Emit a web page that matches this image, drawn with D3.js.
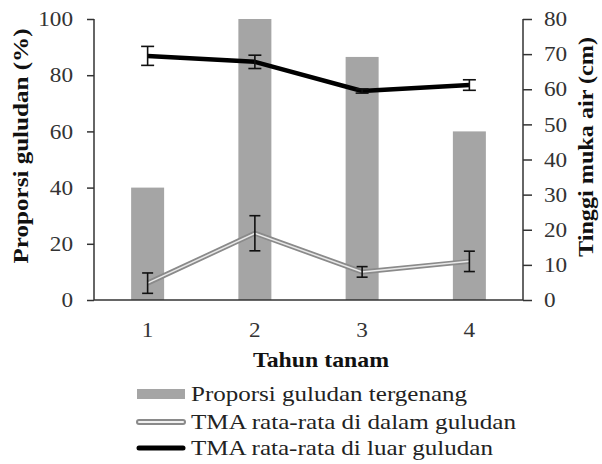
<!DOCTYPE html>
<html><head><meta charset="utf-8">
<script src="https://cdn.jsdelivr.net/npm/d3@7"></script>
</head><body style="margin:0;background:#fff"><div id="chart"></div>
<script>
const categories = ["1","2","3","4"];
const proporsi = [40, 100, 86.5, 60];
const tmaDalam = [4.8, 19, 8, 11];
const tmaDalamErr = [2.9, 5, 1.5, 2.9];
const tmaLuar = [69.5, 67.8, 59.5, 61.2];
const tmaLuarErr = [2.7, 1.9, 0.6, 1.5];
const leftTicks = [0,20,40,60,80,100];
const rightTicks = [0,10,20,30,40,50,60,70,80];
const legendLabels = ["Proporsi guludan tergenang","TMA rata-rata di dalam guludan","TMA rata-rata di luar guludan"];

const FONT = "'Liberation Serif', 'Times New Roman', serif";
const W=602,H=464;
const svg=d3.select("#chart").append("svg").attr("width",W).attr("height",H).style("display","block");
const L=94,R=523,T=19,B=300;
const x=d3.scaleBand().domain(categories).range([L,R]);
const yL=d3.scaleLinear().domain([0,100]).range([B,T]);
const yR=d3.scaleLinear().domain([0,80]).range([B,T]);
const cx=d=>x(d)+x.bandwidth()/2;
const barW=33;

// bars
svg.selectAll("rect.bar").data(categories).join("rect").attr("class","bar")
  .attr("x",d=>cx(d)-barW/2).attr("width",barW)
  .attr("y",(d,i)=>yL(proporsi[i])).attr("height",(d,i)=>B-yL(proporsi[i]))
  .attr("fill","#a5a5a5");

function styleTicks(a){
  a.selectAll(".tick line").attr("stroke","#333").attr("stroke-width",1.5);
  a.selectAll(".tick text").style("font-family",FONT).style("font-size","21px").attr("fill","#333")
   .attr("textLength",function(){return this.textContent.length*11.6;}).attr("lengthAdjust","spacingAndGlyphs");
}
const axL=svg.append("g").attr("transform",`translate(${L},0)`)
  .call(d3.axisLeft(yL).tickValues(leftTicks).tickSize(7).tickPadding(14));
const axR=svg.append("g").attr("transform",`translate(${R},0)`)
  .call(d3.axisRight(yR).tickValues(rightTicks).tickSize(9).tickPadding(12));
[axL,axR].forEach(a=>{
  styleTicks(a);
  a.select(".domain").remove();
  a.append("line").attr("x1",0).attr("x2",0).attr("y1",T).attr("y2",B).attr("stroke","#333").attr("stroke-width",1.5);
});

const axB=svg.append("g").attr("transform",`translate(0,${B})`)
  .call(d3.axisBottom(x).tickSize(0).tickPadding(22));
axB.select(".domain").remove();
axB.append("line").attr("x1",L).attr("x2",R).attr("stroke","#333").attr("stroke-width",1.5);
styleTicks(axB);

// lines
const line=arr=>d3.line().x((d,i)=>cx(categories[i])).y(d=>yR(d))(arr);
svg.append("path").attr("d",line(tmaDalam)).attr("fill","none").attr("stroke","#8a8a8a").attr("stroke-width",5);
svg.append("path").attr("d",line(tmaDalam)).attr("fill","none").attr("stroke","#e8e8e8").attr("stroke-width",1.5);
svg.append("path").attr("d",line(tmaLuar)).attr("fill","none").attr("stroke","#000").attr("stroke-width",4.5).attr("stroke-linejoin","round");

function errBars(vals,errs,cap){
  const g=svg.append("g").attr("stroke","#111").attr("stroke-width",1.6);
  vals.forEach((v,i)=>{
    const xc=cx(categories[i]);const y1=yR(v-errs[i]),y2=yR(v+errs[i]);
    g.append("line").attr("x1",xc).attr("x2",xc).attr("y1",y1).attr("y2",y2);
    g.append("line").attr("x1",xc-cap/2).attr("x2",xc+cap/2).attr("y1",y1).attr("y2",y1);
    g.append("line").attr("x1",xc-cap/2).attr("x2",xc+cap/2).attr("y1",y2).attr("y2",y2);
  });
}
errBars(tmaDalam,tmaDalamErr,11);
errBars(tmaLuar,tmaLuarErr,13);

// titles
function title(t,tr,len){
  svg.append("text").attr("transform",tr).attr("text-anchor","middle")
    .style("font-family",FONT).style("font-weight","bold").style("font-size","21px").attr("fill","#111")
    .attr("textLength",len).attr("lengthAdjust","spacingAndGlyphs").text(t);
}
title("Proporsi guludan (%)","translate(28,146) rotate(-90)",235);
title("Tinggi muka air (cm)","translate(593,147) rotate(-90)",220);
title("Tahun tanam","translate(321,367)",136);

// legend
const lg=svg.append("g");
const rowY=[394,422,448];
const widths=[276,325,302];
lg.append("rect").attr("x",137).attr("y",rowY[0]-5).attr("width",48).attr("height",10).attr("fill","#a5a5a5");
lg.append("line").attr("x1",139).attr("x2",183).attr("y1",rowY[1]).attr("y2",rowY[1]).attr("stroke","#8a8a8a").attr("stroke-width",6).attr("stroke-linecap","round");
lg.append("line").attr("x1",139).attr("x2",183).attr("y1",rowY[1]).attr("y2",rowY[1]).attr("stroke","#f0f0f0").attr("stroke-width",2).attr("stroke-linecap","round");
lg.append("line").attr("x1",139).attr("x2",183).attr("y1",rowY[2]).attr("y2",rowY[2]).attr("stroke","#000").attr("stroke-width",5).attr("stroke-linecap","round");
lg.selectAll("text").data(legendLabels).join("text")
  .attr("x",191).attr("y",(d,i)=>rowY[i]+7).style("font-family",FONT).style("font-size","22px").attr("fill","#222")
  .attr("textLength",(d,i)=>widths[i]).attr("lengthAdjust","spacingAndGlyphs")
  .text(d=>d);
</script></body></html>
